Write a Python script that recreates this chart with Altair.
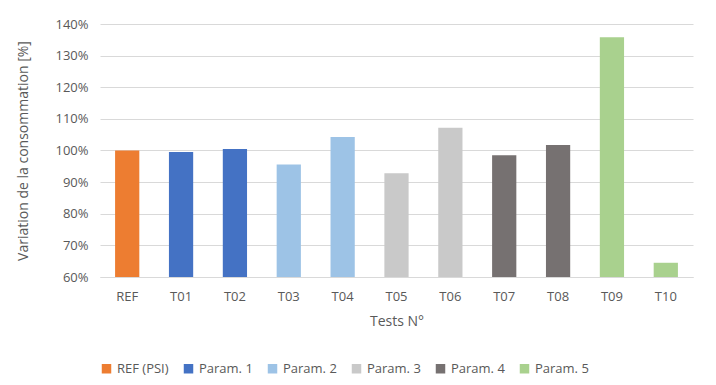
import altair as alt
import pandas as pd

tests = ["REF", "T01", "T02", "T03", "T04", "T05", "T06", "T07", "T08", "T09", "T10"]
values = [1.000, 0.995, 1.005, 0.956, 1.043, 0.928, 1.072, 0.985, 1.017, 1.358, 0.645]
groups = ["REF (PSI)", "Param. 1", "Param. 1", "Param. 2", "Param. 2", "Param. 3", "Param. 3",
          "Param. 4", "Param. 4", "Param. 5", "Param. 5"]
legend_order = ["REF (PSI)", "Param. 1", "Param. 2", "Param. 3", "Param. 4", "Param. 5"]
colors = ["#ED7D31", "#4472C4", "#9DC3E6", "#C9C9C9", "#767171", "#A9D18E"]

df = pd.DataFrame({"test": tests, "value": values, "group": groups})

font = "Open Sans"
grey = "#595959"

chart = alt.Chart(df).mark_bar().encode(
    x=alt.X("test:N", sort=tests, title="Tests N°",
            scale=alt.Scale(paddingInner=0.55, paddingOuter=0.28),
            axis=alt.Axis(labelAngle=0, ticks=False, domainColor="#d9d9d9",
                          labelPadding=13, titlePadding=11, labelFontSize=13,
                          titleFontSize=14)),
    y=alt.Y("value:Q", title="Variation de la consommation [%]",
            scale=alt.Scale(domain=[0.6, 1.4], nice=False, zero=False),
            axis=alt.Axis(format=".0%", values=[0.6, 0.7, 0.8, 0.9, 1.0, 1.1, 1.2, 1.3, 1.4],
                          ticks=False, domain=False, gridColor="#d9d9d9",
                          labelPadding=12, titlePadding=24, labelFontSize=13,
                          titleFontSize=14)),
    y2=alt.datum(0.6),
    color=alt.Color("group:N", scale=alt.Scale(domain=legend_order, range=colors),
                    legend=alt.Legend(orient="bottom", direction="horizontal", title=None,
                                      symbolType="square", symbolSize=90,
                                      symbolStrokeWidth=0,
                                      labelFontSize=13, columnPadding=13,
                                      offset=34)),
).properties(width=593, height=253,
             padding={"left": 8, "top": 10, "right": 5, "bottom": 5}).configure_axis(
    labelFont=font, titleFont=font, labelColor=grey, titleColor=grey,
    titleFontWeight="normal",
).configure_legend(labelFont=font, labelColor=grey).configure_view(stroke=None)

chart.save("out.html", embed_options={"renderer": "svg", "actions": False})
